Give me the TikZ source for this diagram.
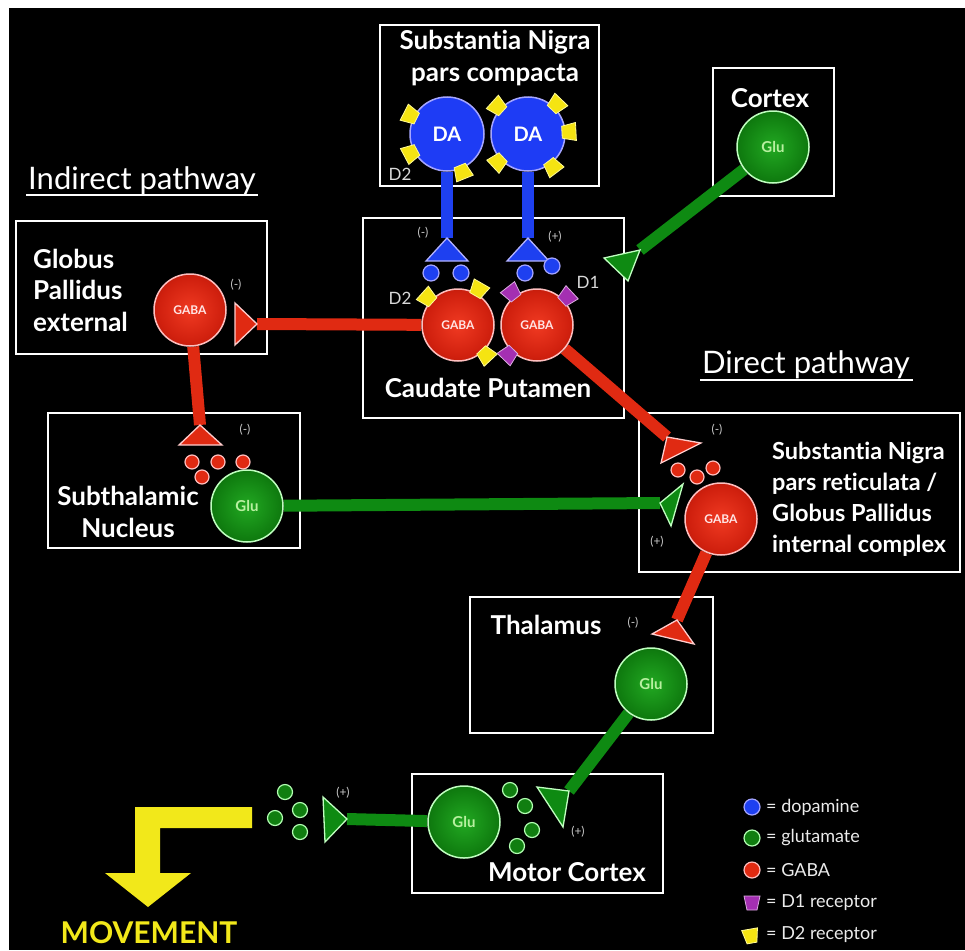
\documentclass[tikz,border=0pt]{standalone}
\usepackage{fontspec}
\setmainfont[Ligatures=NoCommon]{Lato}
\usetikzlibrary{calc}
\definecolor{redhi}{HTML}{F03A22}
\definecolor{redmid}{HTML}{D0200E}
\definecolor{redlo}{HTML}{7E0A02}
\definecolor{grnhi}{HTML}{22A822}
\definecolor{grnmid}{HTML}{107E10}
\definecolor{grnlo}{HTML}{053E05}
\definecolor{axred}{HTML}{E02A12}
\definecolor{axgrn}{HTML}{0E8A12}
\definecolor{axblu}{HTML}{1E40F0}
\definecolor{dablue}{HTML}{1E3CF5}
\definecolor{rcpyel}{HTML}{F5E412}
\definecolor{rcppur}{HTML}{A42FB2}
\definecolor{glutxt}{HTML}{B8F0A0}
\definecolor{mvyel}{HTML}{F2E81A}
\pgfdeclareradialshading{redcell}{\pgfpoint{0bp}{0bp}}{color(0bp)=(redhi); color(22bp)=(redmid); color(50bp)=(redlo)}
\pgfdeclareradialshading{grncell}{\pgfpoint{0bp}{0bp}}{color(0bp)=(grnhi); color(22bp)=(grnmid); color(50bp)=(grnlo)}
\pgfdeclarelayer{bg}
\pgfsetlayers{bg,main}
\newcommand\rcp[3]{\begin{scope}[shift={($(#1)+(#2:34)$)},rotate={-1*(#2)}]\filldraw[#3] (0,-6)--(0,6)--(14,9)--(14,-9)--cycle;\end{scope}}
\newcommand\rcpxy[3]{\begin{scope}[shift={(#1)},rotate={-1*(#2)}]\filldraw[#3] (0,-5)--(0,5)--(14,8)--(14,-8)--cycle;\end{scope}}
\begin{document}
\begin{tikzpicture}[x=1pt,y=-1pt,
  box/.style={draw=white, line width=2.5},
  gabacell/.style={circle, minimum size=72, inner sep=0, shading=redcell, draw=white!75!red, line width=1.5, text=white!90!red, font=\bfseries\fontsize{12}{12}\selectfont},
  glucell/.style={circle, minimum size=72, inner sep=0, shading=grncell, draw=white!75!green, line width=1.5, text=glutxt, font=\bfseries\fontsize{15}{15}\selectfont},
  dacell/.style={circle, minimum size=74, inner sep=0, fill=dablue, draw=white!65!blue, line width=1.5, text=white, font=\bfseries\fontsize{20}{20}\selectfont},
  redax/.style={draw=axred, line width=12},
  grnax/.style={draw=axgrn, line width=12},
  bluax/.style={draw=axblu, line width=12},
  redterm/.style={fill=axred, draw=white!80!red, line width=1.3},
  grnterm/.style={fill=axgrn, draw=white!75!green, line width=1.3},
  bluterm/.style={fill=axblu, draw=white!70!blue, line width=1.3},
  bdot/.style={fill=axblu, draw=white!65!blue, line width=1.2},
  rdot/.style={fill=axred, draw=white!75!red, line width=1.2},
  gdot/.style={fill=grnmid, draw=white!70!green, line width=1.2},
  yrcp/.style={fill=rcpyel, draw=white!60!yellow, line width=0.8},
  prcp/.style={fill=rcppur, draw=white!60!rcppur, line width=0.8},
  lbl/.style={text=white, font=\bfseries\fontsize{26}{31.5}\selectfont, inner sep=0},
  lbls/.style={text=white, font=\bfseries\fontsize{23.5}{31}\selectfont, inner sep=0},
  sgn/.style={text=white!80!black, font=\fontsize{12}{12}\selectfont, inner sep=0},
  rlab/.style={text=white!85!black, font=\fontsize{17}{17}\selectfont, inner sep=0},
  path/.style={text=white, font=\fontsize{31}{31}\selectfont, inner sep=0},
  leg/.style={text=white!92!black, font=\fontsize{18}{18}\selectfont, inner sep=0, anchor=west}
]
\useasboundingbox (0,0) rectangle (965,950);
% cells
\node[dacell] (da1) at (447,134) {DA};
\node[dacell] (da2) at (528,134) {DA};
\node[gabacell] (cp2) at (458,325) {GABA};
\node[gabacell] (cp1) at (537,325) {GABA};
\node[glucell] (ctx) at (773,147) {Glu};
\node[gabacell] (gpe) at (190,310) {GABA};
\node[glucell] (stn) at (247,506) {Glu};
\node[gabacell] (snr) at (721,519) {GABA};
\node[glucell] (thal) at (651,684) {Glu};
\node[glucell] (mc) at (464,822) {Glu};
% terminal apexes
\coordinate (tB1) at (447,238);
\coordinate (tB2) at (528,238);
\coordinate (tCtx) at (640,250);
\coordinate (tGPe) at (257,324);
\coordinate (tSTN) at (200,425);
\coordinate (tSNr) at (667,437);
\coordinate (tSNrG) at (660,503);
\coordinate (tThal) at (677,620);
\coordinate (tMC) at (569,791);
\coordinate (tOut) at (347,819);
\begin{pgfonlayer}{bg}
\fill[white] (0,0) rectangle (965,950);
\fill[black] (9,8) rectangle (965,950);
\draw[box] (380,25) rectangle (599,186);
\draw[box] (713,68) rectangle (834,196);
\draw[box] (363,218) rectangle (624,418);
\draw[box] (16,221) rectangle (267,354);
\draw[box] (48,413) rectangle (300,548);
\draw[box] (639,413) rectangle (960,572);
\draw[box] (470,597) rectangle (713,733);
\draw[box] (412,774) rectangle (663,893);
\draw[bluax] (da1) -- (tB1);
\draw[bluax] (da2) -- (tB2);
\draw[grnax] (ctx) -- (tCtx);
\draw[redax] (cp2) -- (tGPe);
\draw[redax] (gpe) -- (tSTN);
\draw[redax] (cp1) -- (tSNr);
\draw[grnax] (stn) -- (tSNrG);
\draw[redax] (snr) -- (tThal);
\draw[grnax] (thal) -- (tMC);
\draw[grnax] (mc) -- (tOut);
\end{pgfonlayer}
% terminals
\filldraw[bluterm] (tB1) -- (426,261) -- (468,261) -- cycle;
\filldraw[bluterm] (tB2) -- (507,261) -- (549,261) -- cycle;
\filldraw[grnterm] (tCtx) -- (604,258) -- (628,281) -- cycle;
\filldraw[redterm] (tGPe) -- (235,303) -- (235,345) -- cycle;
\filldraw[redterm] (tSTN) -- (179,445) -- (222,445) -- cycle;
\filldraw[redterm] (tSNr) -- (701,443) -- (661,463) -- cycle;
\filldraw[grnterm] (tSNrG) -- (683,484) -- (671,526) -- cycle;
\filldraw[redterm] (tThal) -- (652,634) -- (694,644) -- cycle;
\filldraw[grnterm] (tMC) -- (537,787) -- (563,827) -- cycle;
\filldraw[grnterm] (tOut) -- (323,797) -- (325,842) -- cycle;
% vesicles
\foreach \p in {(431,273),(461,273),(525,273),(552,266)} \filldraw[bdot] \p circle (8);
\foreach \p in {(192,462),(218,462),(243,462),(202,477)} \filldraw[rdot] \p circle (7);
\foreach \p in {(678,470),(697,477),(713,468)} \filldraw[rdot] \p circle (7);
\foreach \p in {(510,790),(525,806),(532,830),(517,846)} \filldraw[gdot] \p circle (7.5);
\foreach \p in {(285,792),(300,810),(275,818),(300,832)} \filldraw[gdot] \p circle (7.5);
% receptors
\rcp{da1}{-153}{yrcp}
\rcp{da1}{152}{yrcp}
\rcp{da1}{68}{yrcp}
\rcp{da2}{-138}{yrcp}
\rcp{da2}{-46}{yrcp}
\rcp{da2}{-3}{yrcp}
\rcp{da2}{53}{yrcp}
\rcp{da2}{137}{yrcp}
\rcp{cp2}{-138}{yrcp}
\rcp{cp2}{-60}{yrcp}
\rcp{cp2}{47}{yrcp}
\rcp{cp1}{-128}{prcp}
\rcp{cp1}{-43}{prcp}
\rcp{cp1}{134}{prcp}
% region labels
\node[lbl, align=center] (snc) at (495,58) {Substant{}ia Nigra\\pars compacta};
\node[lbl] (ctxl) at (770,98) {Cortex};
\node[lbl] (cpl) at (488,388) {Caudate Putamen};
\node[lbl, align=left, anchor=west] (gpel) at (33,290) {Globus\\Pallidus\\external};
\node[lbl, align=center] (stnl) at (128,512) {Subthalamic\\Nucleus};
\node[lbls, align=left, anchor=west] (snrl) at (772,499) {Substant{}ia Nigra\\pars reticulata /\\Globus Pallidus\\internal complex};
\node[lbl] (thall) at (546,625) {Thalamus};
\node[lbl] (mcl) at (567,872) {Motor Cortex};
% pathway titles
\node[path] (ind) at (142,181) {Indirect pathway};
\draw[white, line width=1.5] (26,195) -- (258,195);
\node[path] (dir) at (806,365) {Direct pathway};
\draw[white, line width=1.5] (700,380) -- (913,380);
% signs
\node[sgn] (s1) at (236,285) {(-)};
\node[sgn] (s2) at (423,233) {(-)};
\node[sgn] (s3) at (555,237) {(+)};
\node[sgn] (s4) at (245,430) {(-)};
\node[sgn] (s5) at (717,430) {(-)};
\node[sgn] (s6) at (657,542) {(+)};
\node[sgn] (s7) at (633,623) {(-)};
\node[sgn] (s8) at (578,832) {(+)};
\node[sgn] (s9) at (343,793) {(+)};
\node[rlab] (d2a) at (400,174) {D2};
\node[rlab] (d2b) at (400,298) {D2};
\node[rlab] (d1) at (588,282) {D1};
% movement arrow
\fill[mvyel] (252,807) -- (135,807) -- (135,873) -- (105,873) -- (148,907) -- (191,873) -- (160,873) -- (160,828) -- (252,828) -- cycle;
\node[text=mvyel, font=\bfseries\fontsize{30}{30}\selectfont, inner sep=0] (mv) at (149,933) {MOVEMENT};
% legend
\filldraw[bdot] (752,807) circle (8);
\filldraw[gdot] (752,838) circle (8);
\filldraw[rdot] (752,870) circle (8);
\rcpxy{752,910}{-90}{prcp}
\rcpxy{752,943}{-100}{yrcp}
\node[leg] (l1) at (766,807) {= dopamine};
\node[leg] (l2) at (766,838) {= glutamate};
\node[leg] (l3) at (766,870) {= GABA};
\node[leg] (l4) at (766,903) {= D1 receptor};
\node[leg] (l5) at (766,935) {= D2 receptor};
\end{tikzpicture}
\end{document}
